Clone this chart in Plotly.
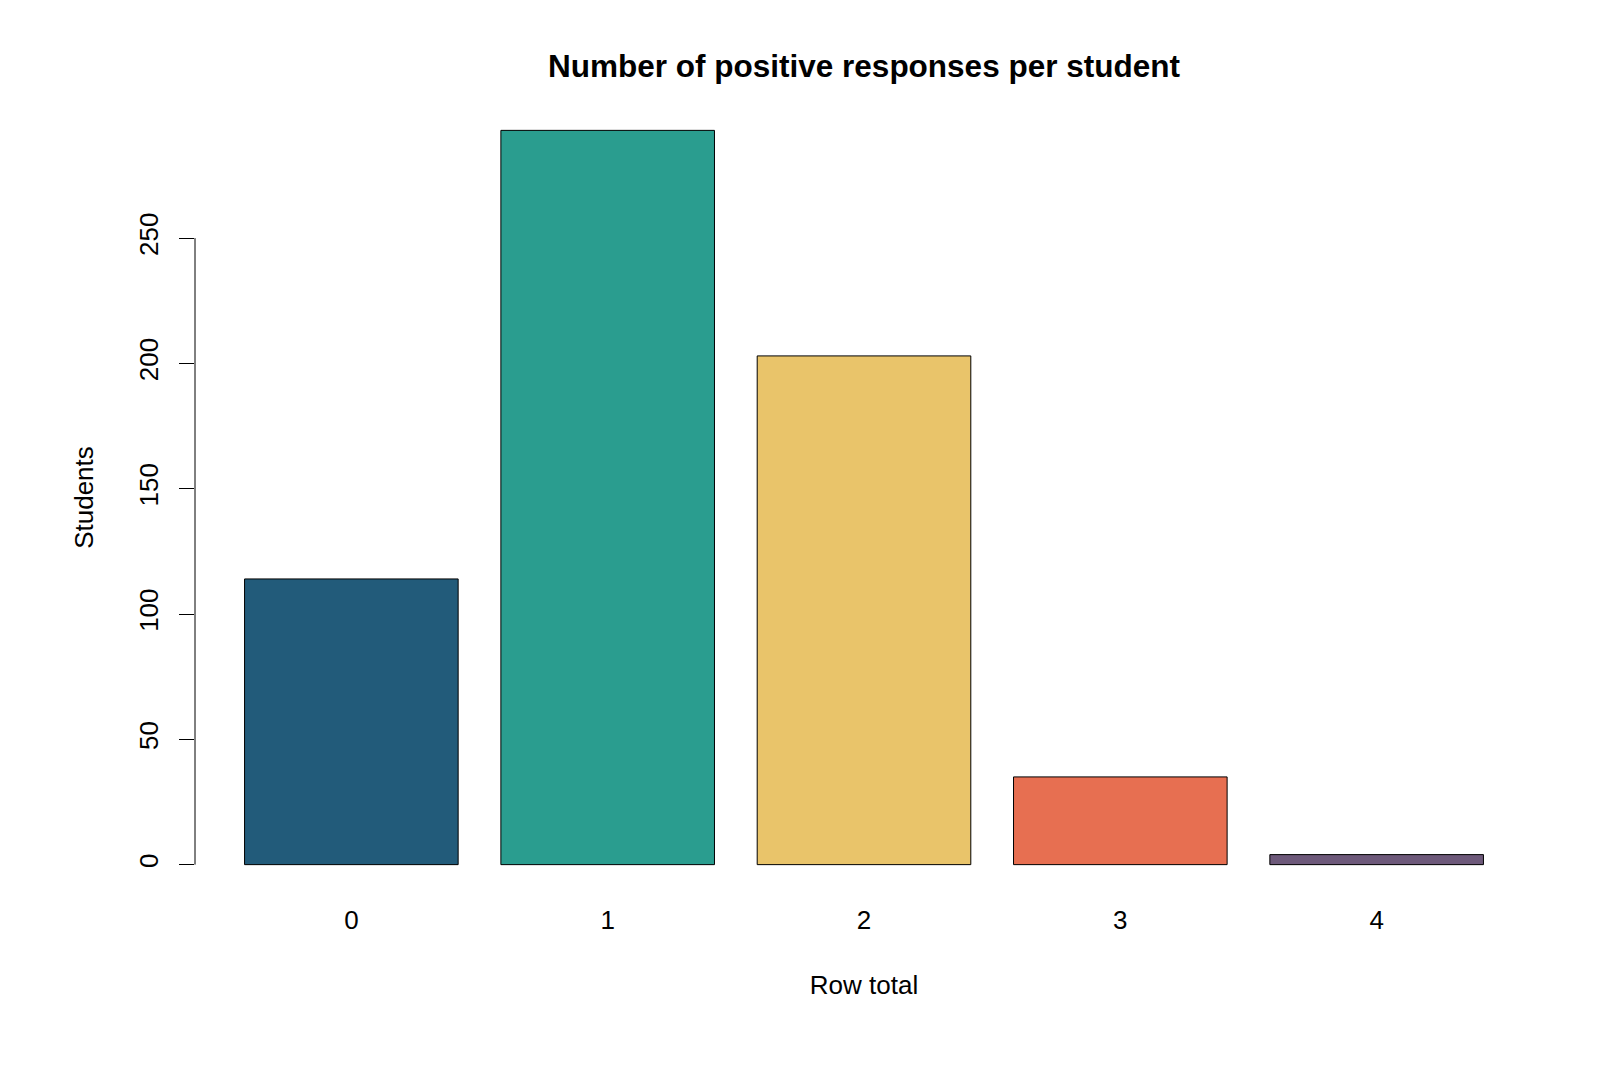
import plotly.graph_objects as go

categories = ["0", "1", "2", "3", "4"]
students = [114, 293, 203, 35, 4]
colors = ["#225b7a", "#2a9d8f", "#e9c46a", "#e76f51", "#6d597a"]
y_ticks = [0, 50, 100, 150, 200, 250]

FONT = "Liberation Sans, Arial, sans-serif"

fig = go.Figure(
    go.Bar(
        x=categories,
        y=students,
        marker=dict(color=colors, line=dict(color="black", width=1)),
        width=0.8333,
    )
)

ymax = max(students)
fig.update_layout(
    width=1600,
    height=1067,
    paper_bgcolor="white",
    plot_bgcolor="white",
    margin=dict(l=195, r=67, t=101, b=173),
    font=dict(family=FONT, size=26, color="black"),
    showlegend=False,
    title=dict(
        text="<b>Number of positive responses per student</b>",
        x=0.5,
        xref="paper",
        xanchor="center",
        y=1 - 66 / 1067,
        yanchor="middle",
        font=dict(family=FONT, size=31.5, color="black"),
    ),
    xaxis=dict(
        type="category",
        range=[-0.61, 4.61],
        showline=False,
        showgrid=False,
        zeroline=False,
        ticks="",
        ticklabelstandoff=8,
        title=dict(text="Row total", standoff=41, font=dict(size=26)),
    ),
    yaxis=dict(
        range=[-0.04 * ymax, 1.04 * ymax],
        tickvals=y_ticks,
        ticktext=[str(v) for v in y_ticks],
        tickangle=-90,
        ticks="outside",
        ticklen=15,
        tickcolor="black",
        tickwidth=1,
        showline=False,
        showgrid=False,
        zeroline=False,
        ticklabelstandoff=11,
        title=dict(text="Students", standoff=32, font=dict(size=26)),
    ),
)

fig.add_shape(
    type="line",
    xref="paper",
    yref="y",
    x0=0,
    x1=0,
    y0=y_ticks[0],
    y1=y_ticks[-1],
    line=dict(color="black", width=1),
)

fig.write_html("out.html")
